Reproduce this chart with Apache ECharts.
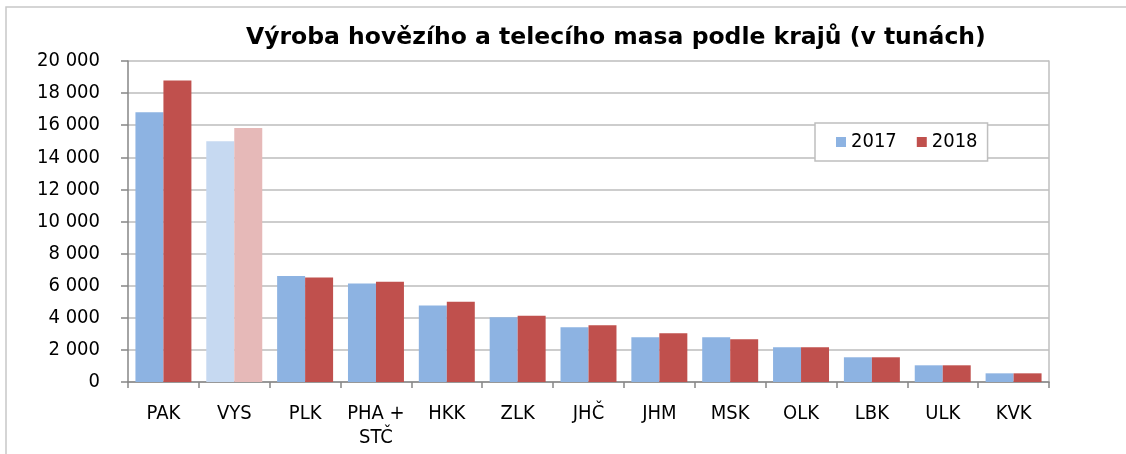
<!DOCTYPE html>
<html><head><meta charset="utf-8">
<script src="https://cdn.jsdelivr.net/npm/echarts@6/dist/echarts.min.js"></script>
<style>html,body{margin:0;padding:0;background:#fff}#c{width:1126px;height:454px}</style>
</head><body><div id="c"></div>
<script>
const categories = ['PAK','VYS','PLK','PHA +\nSTČ','HKK','ZLK','JHČ','JHM','MSK','OLK','LBK','ULK','KVK'];
const v2017 = [16800,15000,6600,6130,4760,4030,3410,2790,2790,2160,1540,1040,540];
const v2018 = [18780,15830,6510,6250,5000,4130,3530,3030,2660,2170,1540,1040,540];
const yTicks = [0,2000,4000,6000,8000,10000,12000,14000,16000,18000,20000];
const seriesNames = ['2017','2018'];
const highlight = 'VYS';

const FONT = '"DejaVu Sans Condensed","DejaVu Sans",sans-serif';
const TFONT = '"DejaVu Sans",sans-serif';
const blue = '#8DB3E2', red = '#C0504D', blueL = '#C6D9F1', redL = '#E6B9B8';

function mk(vals, base, light){
  return vals.map((v,i)=> categories[i]===highlight ? {value:v, itemStyle:{color:light}} : v);
}
const chart = echarts.init(document.getElementById('c'));
chart.setOption({
  animation:false,
  backgroundColor:'#fff',
  title:{text:'Výroba hovězího a telecího masa podle krajů (v tunách)', left:241, top:21,
    textStyle:{fontFamily:TFONT, fontWeight:'bold', fontSize:23.5, color:'#000'}},
  graphic:[{type:'rect', shape:{x:6,y:7,width:1300,height:600}, style:{fill:'none', stroke:'#C8C8C8', lineWidth:1.5}, silent:true}],
  legend:{data:seriesNames, left:815, top:123, orient:'horizontal', itemWidth:10, itemHeight:10, itemGap:20,
    padding:[9,10,9,21], borderColor:'#BFBFBF', borderWidth:1.5, backgroundColor:'#fff',
    textStyle:{fontFamily:FONT, fontSize:20, color:'#000'}, icon:'rect'},
  grid:{left:128, right:77, top:61, bottom:72},
  xAxis:{type:'category', data:categories,
    axisLine:{lineStyle:{color:'#868686', width:1.5}},
    axisTick:{show:true, length:6, lineStyle:{color:'#868686', width:1.5}},
    axisLabel:{fontFamily:FONT, fontSize:20, color:'#000', margin:20, lineHeight:24, interval:0}},
  yAxis:[{type:'value', min:0, max:20000, interval:2000,
    axisLine:{show:true, lineStyle:{color:'#868686', width:1.5}},
    axisTick:{show:true, length:7, lineStyle:{color:'#868686', width:1.5}},
    splitLine:{lineStyle:{color:'#BCBCBC', width:1.5}},
    axisLabel:{fontFamily:FONT, fontSize:20, color:'#000', margin:28,
      formatter:v=>String(v).replace(/\B(?=(\d{3})+(?!\d))/g,' ')}},
    {type:'value', min:0, max:20000, interval:2000, position:'right',
    axisLine:{show:true, lineStyle:{color:'#BFBFBF', width:1.5}}, axisTick:{show:false}, axisLabel:{show:false}, splitLine:{show:false}}],
  series:[
    {name:seriesNames[0], type:'bar', data:mk(v2017,blue,blueL), itemStyle:{color:blue}, barGap:'0%', barCategoryGap:'21%'},
    {name:seriesNames[1], type:'bar', data:mk(v2018,red,redL), itemStyle:{color:red}, barGap:'0%', barCategoryGap:'21%'}
  ]
});
</script></body></html>
